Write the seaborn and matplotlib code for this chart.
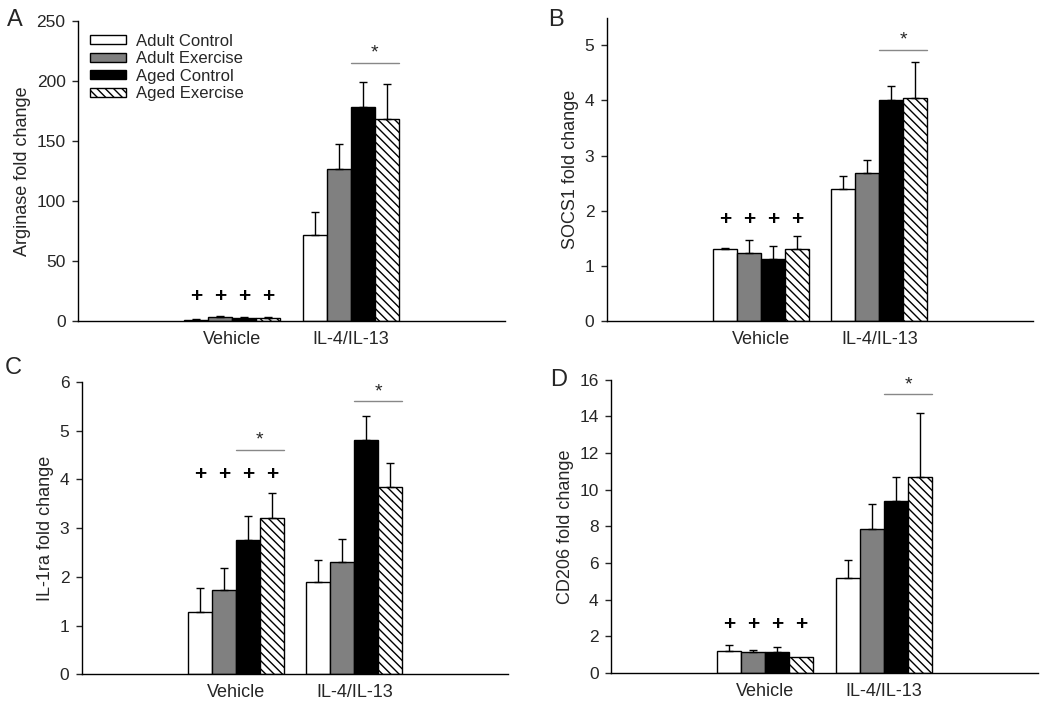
import matplotlib
matplotlib.use("Agg")
import matplotlib.pyplot as plt
import pandas as pd
import numpy as np
import seaborn as sns

groups = ["Vehicle", "IL-4/IL-13"]
conditions = ["Adult Control", "Adult Exercise", "Aged Control", "Aged Exercise"]
colors = ["white", "#808080", "black", "white"]

# panel A - arginase
arg_vehicle = [1.1, 3.3, 2.5, 2.8]
arg_vehicle_sem = [0.6, 0.9, 1.1, 0.8]
arg_il = [72, 126.5, 178.5, 168.5]
arg_il_sem = [18.8, 21.5, 20.5, 29.5]

# panel B - SOCS1
socs_vehicle = [1.30, 1.24, 1.13, 1.30]
socs_vehicle_sem = [0.03, 0.24, 0.24, 0.25]
socs_il = [2.40, 2.69, 4.01, 4.05]
socs_il_sem = [0.23, 0.24, 0.26, 0.64]

# panel C - IL-1ra
il1ra_vehicle = [1.28, 1.73, 2.76, 3.21]
il1ra_vehicle_sem = [0.48, 0.45, 0.48, 0.51]
il1ra_il = [1.89, 2.30, 4.80, 3.85]
il1ra_il_sem = [0.46, 0.48, 0.51, 0.48]

# panel D - CD206
cd206_vehicle = [1.20, 1.13, 1.15, 0.84]
cd206_vehicle_sem = [0.33, 0.14, 0.25, 0.0]
cd206_il = [5.2, 7.85, 9.38, 10.71]
cd206_il_sem = [0.95, 1.37, 1.33, 3.49]

sns.set_style("ticks")
plt.rcParams['font.family'] = ['Liberation Sans', 'DejaVu Sans']
plt.rcParams['hatch.linewidth'] = 1.0
plt.rcParams['hatch.color'] = 'black'


def bar_panel(ax, vehicle, vehicle_sem, il, il_sem, ylabel, ymax, yticks,
              plus_y, sig_lines, legend=False):
    df = pd.DataFrame({
        "group": np.repeat(groups, 4),
        "condition": conditions * 2,
        "value": vehicle + il,
    })
    sems = vehicle_sem + il_sem
    sns.barplot(data=df, x="group", y="value", hue="condition", order=groups,
                hue_order=conditions, palette=colors, edgecolor="black",
                linewidth=1, width=0.81, errorbar=None, ax=ax, legend=False,
                saturation=1)
    bars = list(ax.containers)
    for i, cont in enumerate(bars):
        for j, p in enumerate(cont.patches):
            if i == 3:
                p.set_hatch("\\\\\\\\")
            x = p.get_x() + p.get_width() / 2
            val = p.get_height()
            err = sems[j * 4 + i]
            if err > 0:
                ax.errorbar(x, val, yerr=[[0], [err]], fmt="none", ecolor="black",
                            elinewidth=1, capsize=3.2, capthick=1, zorder=1)
            if j == 0:
                ax.text(x, plus_y, "+", ha="center", va="center", fontsize=15,
                        fontweight="bold", color="black")
    for gi, y in sig_lines:
        cont_l = bars[2].patches[gi]
        cont_r = bars[3].patches[gi]
        x0 = cont_l.get_x()
        x1 = cont_r.get_x() + cont_r.get_width()
        ax.plot([x0, x1], [y, y], color="#888888", lw=1)
        ax.annotate("*", ((x0 + x1) / 2, y), xytext=(0, 1), textcoords="offset points",
                    ha="center", va="bottom", fontsize=14)
    ax.set_xlim(-1.30, 2.30)
    ax.set_ylim(0, ymax)
    ax.set_yticks(yticks)
    ax.set_xlabel("")
    ax.set_ylabel(ylabel, fontsize=13)
    ax.tick_params(axis="x", length=0, labelsize=13, pad=7)
    ax.tick_params(axis="y", length=4, width=1, labelsize=12.5, pad=5, direction="out")
    for s in ["left", "bottom"]:
        ax.spines[s].set_linewidth(1)
        ax.spines[s].set_color("black")
    sns.despine(ax=ax)
    if legend:
        handles = [bars[i].patches[0] for i in range(4)]
        ax.legend(handles, conditions, loc="upper left", bbox_to_anchor=(0.0, 0.997),
                  frameon=False, fontsize=12, handlelength=2.15, handleheight=0.45,
                  labelspacing=0.15, handletextpad=0.65, borderaxespad=0.3)


fig = plt.figure(figsize=(10.5, 7.06), dpi=100)
axA = fig.add_axes([0.0743, 0.545, 0.4067, 0.425])
axB = fig.add_axes([0.578, 0.545, 0.406, 0.430])
axC = fig.add_axes([0.078, 0.045, 0.406, 0.414])
axD = fig.add_axes([0.582, 0.047, 0.407, 0.415])

bar_panel(axA, arg_vehicle, arg_vehicle_sem, arg_il, arg_il_sem,
          "Arginase fold change", 250, range(0, 251, 50), 21, [(1, 215)], legend=True)
bar_panel(axB, socs_vehicle, socs_vehicle_sem, socs_il, socs_il_sem,
          "SOCS1 fold change", 5.5, range(0, 6), 1.85, [(1, 4.92)])
bar_panel(axC, il1ra_vehicle, il1ra_vehicle_sem, il1ra_il, il1ra_il_sem,
          "IL-1ra fold change", 6, range(0, 7), 4.09, [(0, 4.6), (1, 5.6)])
bar_panel(axD, cd206_vehicle, cd206_vehicle_sem, cd206_il, cd206_il_sem,
          "CD206 fold change", 16, range(0, 17, 2), 2.65, [(1, 15.2)])

for label, x, y in [("A", 0.007, 0.971), ("B", 0.522, 0.971),
                    ("C", 0.005, 0.479), ("D", 0.524, 0.462)]:
    fig.text(x, y, label, fontsize=17, ha="left", va="center")

fig.savefig("out.png", dpi=100)
